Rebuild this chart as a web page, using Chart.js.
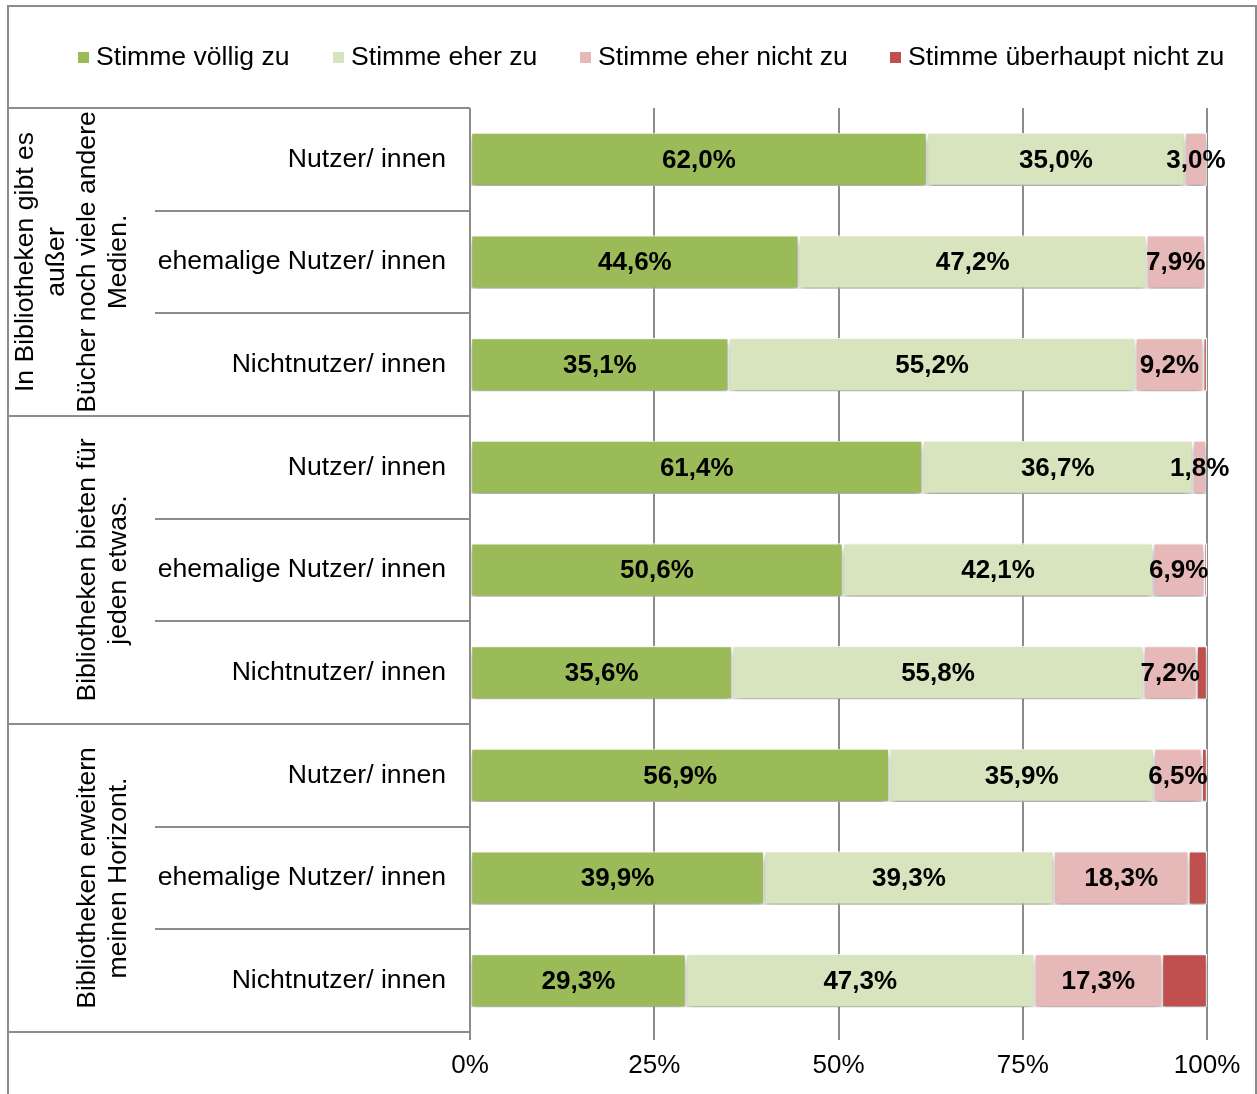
<!DOCTYPE html>
<html>
<head>
<meta charset="utf-8">
<script src="https://cdn.jsdelivr.net/npm/chart.js@4"></script>
<style>
html,body{margin:0;padding:0;background:#fff;}
#wrap{position:relative;width:1257px;height:1094px;}
</style>
</head>
<body>
<div id="wrap"><canvas id="c" width="1257" height="1094"></canvas></div>
<script>
// ---- data ----
const categories = [
  "Nutzer/ innen", "ehemalige Nutzer/ innen", "Nichtnutzer/ innen",
  "Nutzer/ innen", "ehemalige Nutzer/ innen", "Nichtnutzer/ innen",
  "Nutzer/ innen", "ehemalige Nutzer/ innen", "Nichtnutzer/ innen"
];
const groupLabels = [
  ["In Bibliotheken gibt es", "außer", "Bücher noch viele andere", "Medien."],
  ["Bibliotheken bieten für", "jeden etwas."],
  ["Bibliotheken erweitern", "meinen Horizont."]
];
const seriesNames = ["Stimme völlig zu", "Stimme eher zu", "Stimme eher nicht zu", "Stimme überhaupt nicht zu"];
const voelligZu      = [62.0, 44.6, 35.1, 61.4, 50.6, 35.6, 56.9, 39.9, 29.3];
const eherZu         = [35.0, 47.2, 55.2, 36.7, 42.1, 55.8, 35.9, 39.3, 47.3];
const eherNichtZu    = [3.0, 7.9, 9.2, 1.8, 6.9, 7.2, 6.5, 18.3, 17.3];
const ueberhauptNicht = [0.0, 0.0, 0.5, 0.0, 0.4, 1.4, 0.7, 2.5, 6.1];
const xTicks = ["0%", "25%", "50%", "75%", "100%"];
const colors = ["#9BBB59", "#D7E4BD", "#E6B9B8", "#C0504D"];

const FONT = "'Liberation Sans', Arial, sans-serif";
const seriesData = [voelligZu, eherZu, eherNichtZu, ueberhauptNicht];

const shadowPlugin = {
  id: 'shadow',
  beforeDatasetsDraw(chart) {
    const ctx = chart.ctx;
    ctx.save();
    ctx.shadowColor = 'rgba(0,0,0,0.4)';
    ctx.shadowBlur = 7;
    ctx.shadowOffsetX = 0;
    ctx.shadowOffsetY = 4;
  },
  afterDatasetsDraw(chart) {
    chart.ctx.restore();
  }
};

const labelPlugin = {
  id: 'labels',
  afterDatasetsDraw(chart) {
    const ctx = chart.ctx;
    ctx.save();
    ctx.font = "bold 26px " + FONT;
    ctx.fillStyle = '#000';
    ctx.textAlign = 'center';
    ctx.textBaseline = 'middle';
    for (let d = 0; d < 3; d++) {
      const meta = chart.getDatasetMeta(d);
      meta.data.forEach((bar, i) => {
        const v = chart.data.datasets[d].data[i];
        if (!v) return;
        const cx = (bar.x + bar.base) / 2;
        ctx.fillText(v.toFixed(1).replace('.', ',') + '%', cx, bar.y + 1);
      });
    }
    ctx.restore();
  }
};

const framePlugin = {
  id: 'frame',
  afterDraw(chart) {
    const ctx = chart.ctx;
    const ca = chart.chartArea;
    const y = chart.scales.y;
    ctx.save();
    // outer border
    ctx.strokeStyle = '#8c8c8c';
    ctx.lineWidth = 2;
    ctx.strokeRect(8, 6, 1248, 1100);

    // legend
    ctx.font = "26.6px " + FONT;
    ctx.textBaseline = 'middle';
    ctx.textAlign = 'left';
    const legX = [78, 333, 580, 890];
    seriesNames.forEach((n, i) => {
      ctx.fillStyle = colors[i];
      ctx.fillRect(legX[i], 52, 11, 11);
      ctx.fillStyle = '#000';
      ctx.fillText(n, legX[i] + 18, 58);
    });

    // table lines
    ctx.strokeStyle = '#8c8c8c';
    ctx.lineWidth = 2;
    const n = categories.length;
    const step = (ca.bottom - ca.top) / n;
    for (let i = 0; i <= n; i++) {
      const yy = Math.round(ca.top + i * step);
      const x0 = (i % 3 === 0) ? 8 : 155;
      ctx.beginPath();
      ctx.moveTo(x0, yy);
      ctx.lineTo(ca.left, yy);
      ctx.stroke();
    }

    // category labels
    ctx.fillStyle = '#000';
    ctx.font = "26.6px " + FONT;
    ctx.textAlign = 'right';
    ctx.textBaseline = 'middle';
    categories.forEach((c, i) => {
      ctx.fillText(c, 446, y.getPixelForValue(i));
    });

    // group labels (rotated)
    groupLabels.forEach((lines, g) => {
      const cy = ca.top + (g * 3 + 1.5) * step;
      const lastX = 119;
      const lh = 31;
      ctx.save();
      ctx.textAlign = 'center';
      ctx.textBaseline = 'middle';
      lines.forEach((ln, k) => {
        const x = lastX - (lines.length - 1 - k) * lh;
        ctx.save();
        ctx.translate(x, cy);
        ctx.rotate(-Math.PI / 2);
        ctx.fillText(ln, 0, 0);
        ctx.restore();
      });
      ctx.restore();
    });
    ctx.restore();
  }
};

new Chart(document.getElementById('c'), {
  type: 'bar',
  data: {
    labels: categories,
    datasets: seriesData.map((arr, i) => ({
      label: seriesNames[i],
      data: arr,
      backgroundColor: colors[i],
      borderColor: '#ffffff',
      borderWidth: 1.2,
      borderSkipped: false,
      categoryPercentage: 1.0,
      barPercentage: 0.52
    }))
  },
  options: {
    indexAxis: 'y',
    responsive: false,
    animation: false,
    devicePixelRatio: 1,
    layout: { padding: { left: 470, right: 50, top: 108, bottom: 0 } },
    plugins: { legend: { display: false }, tooltip: { enabled: false } },
    scales: {
      x: {
        stacked: true,
        min: 0, max: 100,
        afterBuildTicks(scale) {
          scale.ticks = xTicks.map((t, i) => ({ value: i * 25 }));
        },
        afterFit(scale) { scale.height = 62; },
        ticks: {
          callback: (v, i) => xTicks[i],
          font: { family: FONT, size: 26 },
          color: '#000',
          padding: 10,
          maxRotation: 0
        },
        grid: { color: '#8c8c8c', lineWidth: 2, tickLength: 8, drawTicks: true },
        border: { display: false }
      },
      y: {
        stacked: true,
        display: false
      }
    }
  },
  plugins: [shadowPlugin, labelPlugin, framePlugin]
});
</script>
</body>
</html>
